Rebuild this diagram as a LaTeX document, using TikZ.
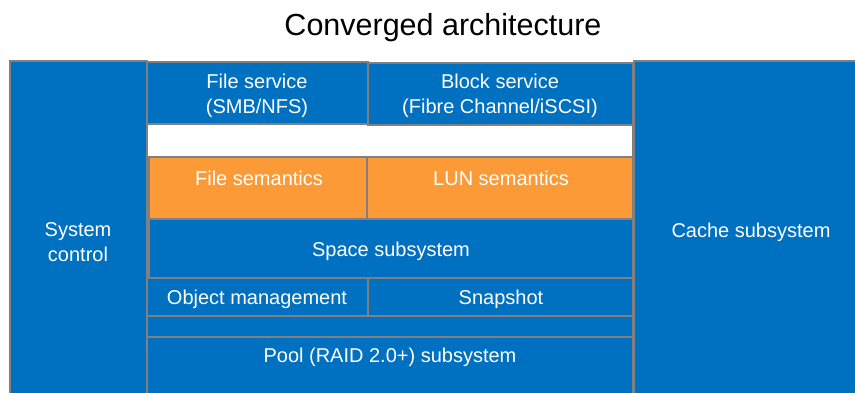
\documentclass[tikz,border=0pt]{standalone}
\usepackage{fontspec}
\setmainfont{Liberation Sans}
\definecolor{hwblue}{RGB}{0,112,192}
\definecolor{hworange}{RGB}{252,154,56}
\definecolor{hwgray}{RGB}{128,128,128}
\begin{document}
\begin{tikzpicture}[x=1pt,y=-1pt,
  cell/.style={draw=hwgray, line width=1.8pt, fill=hwblue, inner sep=0pt, outer sep=0pt, anchor=north west},
  sem/.style={cell, fill=hworange},
  gap/.style={cell, fill=white},
  lbl/.style={text=white, font=\fontsize{20}{25}\selectfont, align=center, inner sep=0pt, yshift=-2pt},
  ttl/.style={text=black, font=\fontsize{30.5}{36}\selectfont, inner sep=0pt, yshift=-3pt}]
\useasboundingbox (0,0) rectangle (855,392);
% boxes
\node[cell, minimum width=137pt, minimum height=333pt] (sys) at (10,61) {};
\node[cell, minimum width=224pt, minimum height=333pt] (cache) at (634,61) {};
\node[gap, minimum width=486pt, minimum height=33pt] (band) at (147,124) {};
\node[cell, minimum width=221pt, minimum height=62pt] (fsvc) at (147,62) {};
\node[cell, minimum width=265pt, minimum height=62pt] (bsvc) at (368,63) {};
\node[sem, minimum width=218pt, minimum height=62pt] (fsem) at (149,157) {};
\node[sem, minimum width=266pt, minimum height=62pt] (lsem) at (367,157) {};
\node[cell, minimum width=484pt, minimum height=59pt] (space) at (149,219) {};
\node[cell, minimum width=221pt, minimum height=38pt] (obj) at (147,278) {};
\node[cell, minimum width=265pt, minimum height=38pt] (snap) at (368,278) {};
\node[cell, minimum width=486pt, minimum height=21pt] (bar) at (147,316) {};
\node[cell, minimum width=486pt, minimum height=57pt] (pool) at (147,337) {};
% texts
\node[ttl] (title) at (443,25) {Converged architecture};
\node[lbl] (tsys) at (78,240) {System\\control};
\node[lbl] (tcache) at (751,230) {Cache subsystem};
\node[lbl] (tfsvc) at (257,94) {File service\\(SMB/NFS)};
\node[lbl] (tbsvc) at (500,94) {Block service\\(Fibre Channel/iSCSI)};
\node[lbl] (tfsem) at (259,176) {File semantics};
\node[lbl] (tlsem) at (501,176) {LUN semantics};
\node[lbl] (tspace) at (391,249) {Space subsystem};
\node[lbl] (tobj) at (257,297) {Object management};
\node[lbl] (tsnap) at (501,297) {Snapshot};
\node[lbl] (tpool) at (390,355) {Pool (RAID 2.0+) subsystem};
\end{tikzpicture}
\end{document}
